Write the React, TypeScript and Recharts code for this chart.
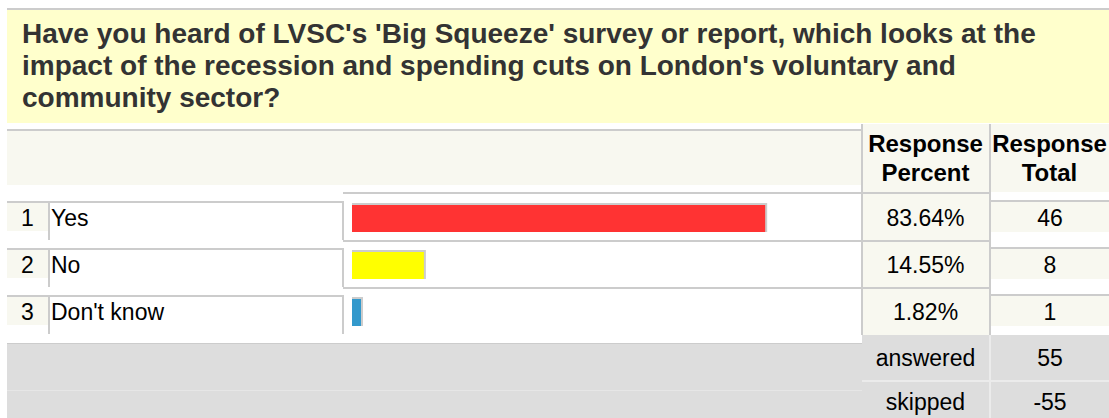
import React from "react";
import { Bar, BarChart, Cell, XAxis, YAxis } from "recharts";

const titleLines = [
  "Have you heard of LVSC's 'Big Squeeze' survey or report, which looks at the",
  "impact of the recession and spending cuts on London's voluntary and",
  "community sector?",
];
const categories = ["Yes", "No", "Don't know"];
const responsePercent = [83.64, 14.55, 1.82];
const responseTotal = [46, 8, 1];
const answeredCount = 55;
const skippedCount = -55;

const barColors = ["#ff3333", "#ffff00", "#3399cc"];

const rows = categories.map((name, i) => ({
  name,
  pct: responsePercent[i],
  total: responseTotal[i],
}));

const FONT = "'Liberation Sans', Arial, sans-serif";
const LINE = "#cccccc";
const PALE = "#f8f8f0";
const FOOT = "#dddddd";

function Box(props: { l: number; t: number; w: number; h: number; c: string }) {
  return (
    <div
      style={{
        position: "absolute",
        left: props.l,
        top: props.t,
        width: props.w,
        height: props.h,
        background: props.c,
      }}
    />
  );
}

function Txt(props: {
  l: number;
  t: number;
  w?: number;
  size?: number;
  lh?: number;
  bold?: boolean;
  center?: boolean;
  color?: string;
  children: React.ReactNode;
}) {
  return (
    <div
      style={{
        position: "absolute",
        left: props.l,
        top: props.t,
        width: props.w,
        fontSize: props.size ?? 23,
        lineHeight: (props.lh ?? 26) + "px",
        fontWeight: props.bold ? "bold" : "normal",
        textAlign: props.center ? "center" : "left",
        color: props.color ?? "#000",
        whiteSpace: "nowrap",
      }}
    >
      {props.children}
    </div>
  );
}

// bar with the grey edge on top and right, like the survey images
function ShadowBar(props: any) {
  const { x, y, width, height, index } = props;
  if (!width) return null;
  return (
    <g>
      <rect x={x} y={y - 2} width={width + 2} height={height + 2} fill={LINE} />
      <rect x={x} y={y} width={width} height={height} fill={barColors[index]} />
    </g>
  );
}

export default function App() {
  return (
    <div
      style={{
        position: "absolute",
        left: 0,
        top: 0,
        width: 1109,
        height: 418,
        background: "#fff",
        fontFamily: FONT,
        overflow: "hidden",
      }}
    >
      {/* question */}
      <Box l={7} t={8} w={1102} h={2} c={LINE} />
      <Box l={7} t={10} w={1102} h={113} c="#ffffcc" />
      {titleLines.map((s, i) => (
        <Txt key={i} l={22} t={18 + i * 32} size={28} lh={32} bold color="#333">
          {s}
        </Txt>
      ))}

      {/* header */}
      <Box l={7} t={129} w={855} h={2} c={LINE} />
      <Box l={7} t={131} w={855} h={54} c={PALE} />
      <Box l={862} t={124} w={247} h={68} c={PALE} />
      <Txt l={862} t={129} w={127} size={24} lh={29} bold center>
        Response
        <br />
        Percent
      </Txt>
      <Txt l={990} t={129} w={119} size={24} lh={29} bold center>
        Response
        <br />
        Total
      </Txt>

      {/* percent column */}
      <Box l={862} t={192} w={127} h={143} c={PALE} />
      {[192, 240, 287].map((y) => (
        <Box key={y} l={343} t={y} w={646} h={2} c={LINE} />
      ))}
      <Box l={861} t={124} w={2} h={211} c={LINE} />
      <Box l={989} t={124} w={2} h={211} c={LINE} />

      {rows.map((r, i) => {
        const top = 201 + i * 47;
        return (
          <React.Fragment key={r.name}>
            <Box l={7} t={top} w={337} h={2} c={LINE} />
            <Box l={7} t={top + 2} w={41} h={28} c={PALE} />
            <Box l={48} t={top} w={2} h={39} c={LINE} />
            <Box l={342} t={top} w={2} h={39} c={LINE} />
            <Txt l={7} t={top + 4} w={41} center>
              {i + 1}
            </Txt>
            <Txt l={51} t={top + 4}>
              {r.name}
            </Txt>
            <Txt l={862} t={top + 4} w={127} center>
              {r.pct.toFixed(2)}%
            </Txt>
            <Box l={991} t={top - 1} w={118} h={2} c={LINE} />
            <Box l={991} t={top + 1} w={118} h={30} c={PALE} />
            <Txt l={991} t={top + 4} w={118} center>
              {r.total}
            </Txt>
          </React.Fragment>
        );
      })}

      {/* footer */}
      <Box l={7} t={343} w={855} h={75} c={FOOT} />
      <Box l={7} t={343} w={855} h={1} c={LINE} />
      <Box l={7} t={390} w={855} h={1} c="#e6e6e6" />
      <Box l={862} t={335} w={247} h={83} c={FOOT} />
      <Box l={862} t={380} w={247} h={2} c="#ebebeb" />
      <Box l={989} t={335} w={2} h={83} c="#ebebeb" />
      <Txt l={862} t={345} w={127} center>
        answered
      </Txt>
      <Txt l={991} t={345} w={118} center>
        {answeredCount}
      </Txt>
      <Txt l={862} t={389} w={127} center>
        skipped
      </Txt>
      <Txt l={991} t={389} w={118} center>
        {skippedCount}
      </Txt>

      {/* bars */}
      <div style={{ position: "absolute", left: 343, top: 193 }}>
        <BarChart
          width={519}
          height={150}
          data={rows}
          layout="vertical"
          margin={{ top: 2, right: 16, bottom: 7, left: 9 }}
        >
          <XAxis type="number" domain={[0, 100]} hide />
          <YAxis type="category" dataKey="name" hide />
          <Bar dataKey="pct" barSize={27} shape={<ShadowBar />} isAnimationActive={false}>
            {rows.map((r, i) => (
              <Cell key={r.name} fill={barColors[i]} />
            ))}
          </Bar>
        </BarChart>
      </div>
    </div>
  );
}
